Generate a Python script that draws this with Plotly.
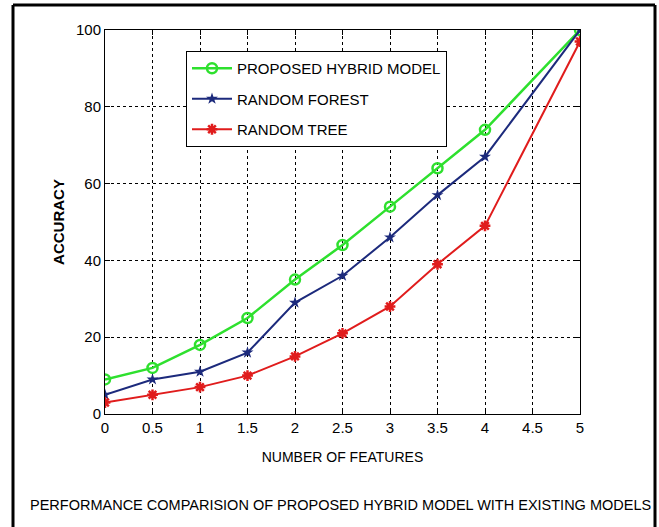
import plotly.graph_objects as go

x_vals = [0, 0.5, 1, 1.5, 2, 2.5, 3, 3.5, 4, 5]
hybrid = [9, 12, 18, 25, 35, 44, 54, 64, 74, 100]
forest = [5, 9, 11, 16, 29, 36, 46, 57, 67, 100]
tree = [3, 5, 7, 10, 15, 21, 28, 39, 49, 97]
x_ticks = [0, 0.5, 1, 1.5, 2, 2.5, 3, 3.5, 4, 4.5, 5]
x_tick_text = ["0", "0.5", "1", "1.5", "2", "2.5", "3", "3.5", "4", "4.5", "5"]
y_ticks = [0, 20, 40, 60, 80, 100]

FONT = "Liberation Sans, Arial, sans-serif"

fig = go.Figure()
fig.add_trace(go.Scatter(x=x_vals, y=hybrid, name="PROPOSED HYBRID MODEL", mode="lines+markers",
                         legendgroup="a",
                         line=dict(color="#2ee02e", width=2.5),
                         marker=dict(symbol="circle-open", size=10, color="#2ee02e", line=dict(width=2.5))))
fig.add_trace(go.Scatter(x=x_vals, y=forest, name="RANDOM FOREST", mode="lines+markers",
                         legendgroup="b",
                         line=dict(color="#1c2a7c", width=2),
                         marker=dict(symbol="star", size=9, color="#1c2a7c")))
fig.add_trace(go.Scatter(x=x_vals, y=tree, name="RANDOM TREE", mode="lines+markers",
                         legendgroup="c",
                         line=dict(color="#e01c1c", width=2),
                         marker=dict(symbol="asterisk-open", size=9, color="#e01c1c", line=dict(width=2.5, color="#e01c1c"))))

L, R, T, B = 105, 79, 30, 113
W, H = 659, 527
pw, ph = W - L - R, H - T - B

def px(x):
    return (x - L) / pw

def py(y):
    return (H - B - y) / ph

fig.update_layout(
    width=W, height=H,
    margin=dict(l=L, r=R, t=T, b=B),
    paper_bgcolor="white", plot_bgcolor="white",
    font=dict(family=FONT, size=14, color="black"),
    showlegend=True,
    legend=dict(x=px(186), y=py(51), xanchor="left", yanchor="top",
                bordercolor="black", borderwidth=1, bgcolor="white",
                font=dict(family=FONT, size=15, color="black"),
                itemwidth=40, tracegroupgap=8),
    xaxis=dict(range=[0, 5], tickvals=x_ticks, ticktext=x_tick_text,
               showline=True, linecolor="black", linewidth=1, mirror="ticks",
               ticks="inside", ticklen=5, tickcolor="black",
               showgrid=True, gridcolor="black", griddash="dot", gridwidth=1,
               zeroline=False, tickfont=dict(family=FONT, size=15),
               title=dict(text="NUMBER OF FEATURES", font=dict(family=FONT, size=14), standoff=17)),
    yaxis=dict(range=[0, 100], tickvals=y_ticks,
               showline=True, linecolor="black", linewidth=1, mirror="ticks",
               ticks="inside", ticklen=5, tickcolor="black",
               showgrid=True, gridcolor="black", griddash="dot", gridwidth=1,
               zeroline=False, tickfont=dict(family=FONT, size=15),
               title=dict(text="<b>ACCURACY</b>", font=dict(family=FONT, size=15), standoff=7)),
)

# outer frame
fig.add_shape(type="line", xref="paper", yref="paper", x0=px(13), x1=px(13), y0=py(5), y1=py(540),
              line=dict(color="black", width=3))
fig.add_shape(type="line", xref="paper", yref="paper", x0=px(655), x1=px(655), y0=py(5), y1=py(540),
              line=dict(color="black", width=3))
fig.add_shape(type="line", xref="paper", yref="paper", x0=px(13), x1=px(655), y0=py(5), y1=py(5),
              line=dict(color="black", width=3))

fig.add_annotation(text="PERFORMANCE COMPARISION OF PROPOSED HYBRID MODEL WITH EXISTING MODELS",
                   xref="paper", yref="paper", x=px(340), y=py(505), showarrow=False,
                   font=dict(family=FONT, size=14.5, color="black"), xanchor="center", yanchor="middle")

fig.write_html("out.html", config={"displayModeBar": False},
               post_script="document.body.style.margin='0px';")
